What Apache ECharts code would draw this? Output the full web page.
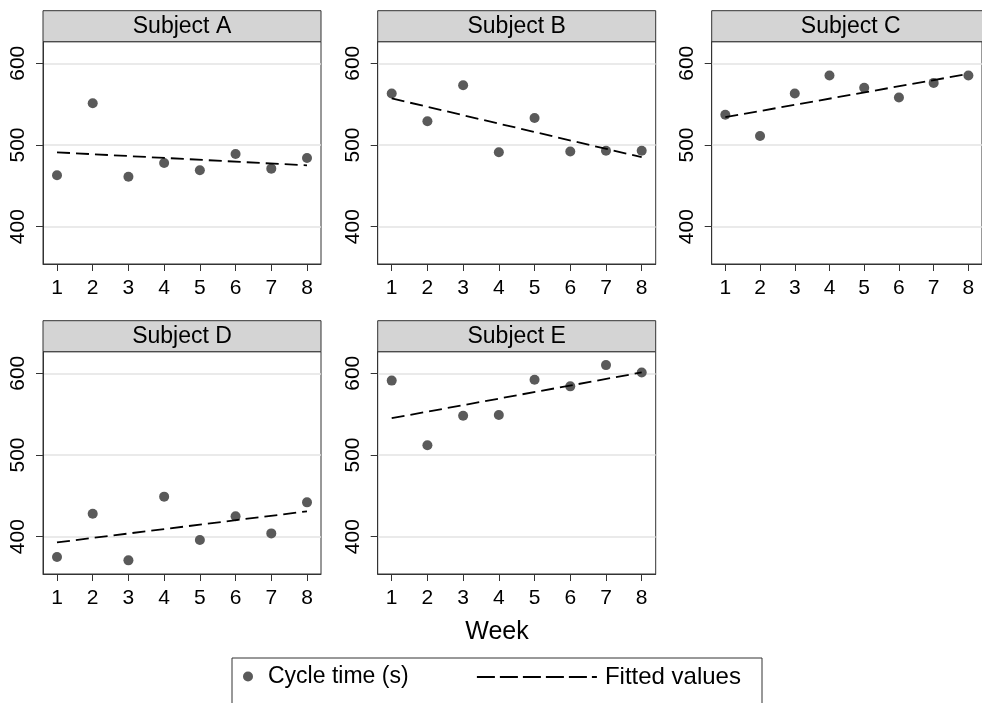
<!DOCTYPE html>
<html>
<head>
<meta charset="utf-8">
<script src="https://cdn.jsdelivr.net/npm/echarts@6/dist/echarts.min.js"></script>
<style>
  html, body { margin: 0; padding: 0; background: #fff; }
  #chart { width: 982px; height: 703px; }
</style>
</head>
<body>
<div id="chart"></div>
<script>
// data
const subjects = ['Subject A', 'Subject B', 'Subject C', 'Subject D', 'Subject E']
const weeks = [1, 2, 3, 4, 5, 6, 7, 8]
const cycleA = [463, 551, 461, 478, 469, 489, 471, 484]
const cycleB = [563, 529, 573, 491, 533, 492, 493, 493]
const cycleC = [537, 511, 563, 585, 570, 558, 576, 585]
const cycleD = [375, 428, 371, 449, 396, 425, 404, 442]
const cycleE = [591, 512, 548, 549, 592, 584, 610, 601]
// fitted line, value at week 1 and week 8
const fitStart = [491, 557, 534, 393, 545]
const fitEnd = [475, 485, 587, 431, 601]
const yTicks = [400, 500, 600]

const cycles = [cycleA, cycleB, cycleC, cycleD, cycleE]

const FONT = '"Liberation Sans", Arial, sans-serif'
const panelLeft = [43, 377.7, 711.7, 43, 377.7]
const panelTop = [41.7, 41.7, 41.7, 351.7, 351.7]
const panelW = 278
const panelH = 222.3
const stripH = 31

const grids = panelLeft.map((l, i) => ({
  left: l,
  top: panelTop[i],
  width: panelW,
  height: panelH,
  show: true,
  borderColor: '#333',
  borderWidth: 1,
  backgroundColor: '#fff'
}))

const xAxes = panelLeft.map((l, i) => ({
  type: 'value',
  gridIndex: i,
  min: 0.608,
  max: 8.392,
  axisLine: { onZero: false, lineStyle: { color: '#333', width: 1 } },
  axisTick: { customValues: weeks, length: 7, lineStyle: { color: '#333' } },
  axisLabel: { customValues: weeks, color: '#000', fontSize: 21, fontFamily: FONT, margin: 14 },
  splitLine: { show: false }
}))

const yAxes = panelLeft.map((l, i) => ({
  type: 'value',
  gridIndex: i,
  min: 354.3,
  max: 626.4,
  axisLine: { show: true, lineStyle: { color: '#333', width: 1 } },
  axisTick: { show: true, customValues: yTicks, length: 7, lineStyle: { color: '#333' } },
  axisLabel: { customValues: yTicks, color: '#000', fontSize: 21, fontFamily: FONT, rotate: 90, margin: 14 },
  splitLine: { show: true, lineStyle: { color: '#e3e3e3', width: 1.5 } }
}))

const series = []
cycles.forEach((vals, i) => {
  series.push({
    name: 'Cycle time (s)',
    type: 'scatter',
    xAxisIndex: i,
    yAxisIndex: i,
    symbolSize: 10,
    itemStyle: { color: '#5a5a5a', opacity: 1 },
    data: weeks.map((w, j) => [w, vals[j]])
  })
  series.push({
    name: 'Fitted values',
    type: 'line',
    xAxisIndex: i,
    yAxisIndex: i,
    symbol: 'none',
    lineStyle: { color: '#000', width: 1.8, type: [13, 6] },
    itemStyle: { color: '#000' },
    data: [[weeks[0], fitStart[i]], [weeks[weeks.length - 1], fitEnd[i]]]
  })
})

const strips = subjects.map((s, i) => ({
  type: 'group',
  children: [{
    type: 'rect',
    shape: { x: panelLeft[i], y: panelTop[i] - stripH, width: panelW, height: stripH },
    style: { fill: '#d4d4d4', stroke: '#333', lineWidth: 1 }
  }, {
    type: 'text',
    x: panelLeft[i] + panelW / 2,
    y: panelTop[i] - stripH / 2,
    style: { text: s, fill: '#000', font: '23px ' + FONT, align: 'center', verticalAlign: 'middle' }
  }]
}))

const option = {
  backgroundColor: '#fff',
  animation: false,
  grid: grids,
  xAxis: xAxes,
  yAxis: yAxes,
  legend: [{
    data: ['Cycle time (s)'],
    left: 238,
    top: 660,
    itemWidth: 30,
    itemHeight: 10,
    icon: 'circle',
    selectedMode: false,
    textStyle: { color: '#000', fontSize: 23, fontFamily: FONT }
  }, {
    data: ['Fitted values'],
    left: 471,
    top: 660,
    itemWidth: 120,
    itemHeight: 10,
    selectedMode: false,
    itemStyle: { color: 'transparent', borderWidth: 0, opacity: 0 },
    lineStyle: { color: '#000', width: 1.8, type: [18, 5] },
    textStyle: { color: '#000', fontSize: 24, fontFamily: FONT, padding: [0, 0, 0, 3] }
  }],
  graphic: strips.concat([{
    type: 'text',
    x: 497,
    y: 632,
    style: { text: 'Week', fill: '#000', font: '25px ' + FONT, align: 'center', verticalAlign: 'middle' }
  }, {
    type: 'rect',
    shape: { x: 232, y: 658, width: 530, height: 60 },
    style: { fill: 'none', stroke: '#333', lineWidth: 1 }
  }]),
  series: series
}

const chart = echarts.init(document.getElementById('chart'))
chart.setOption(option)
</script>
</body>
</html>
